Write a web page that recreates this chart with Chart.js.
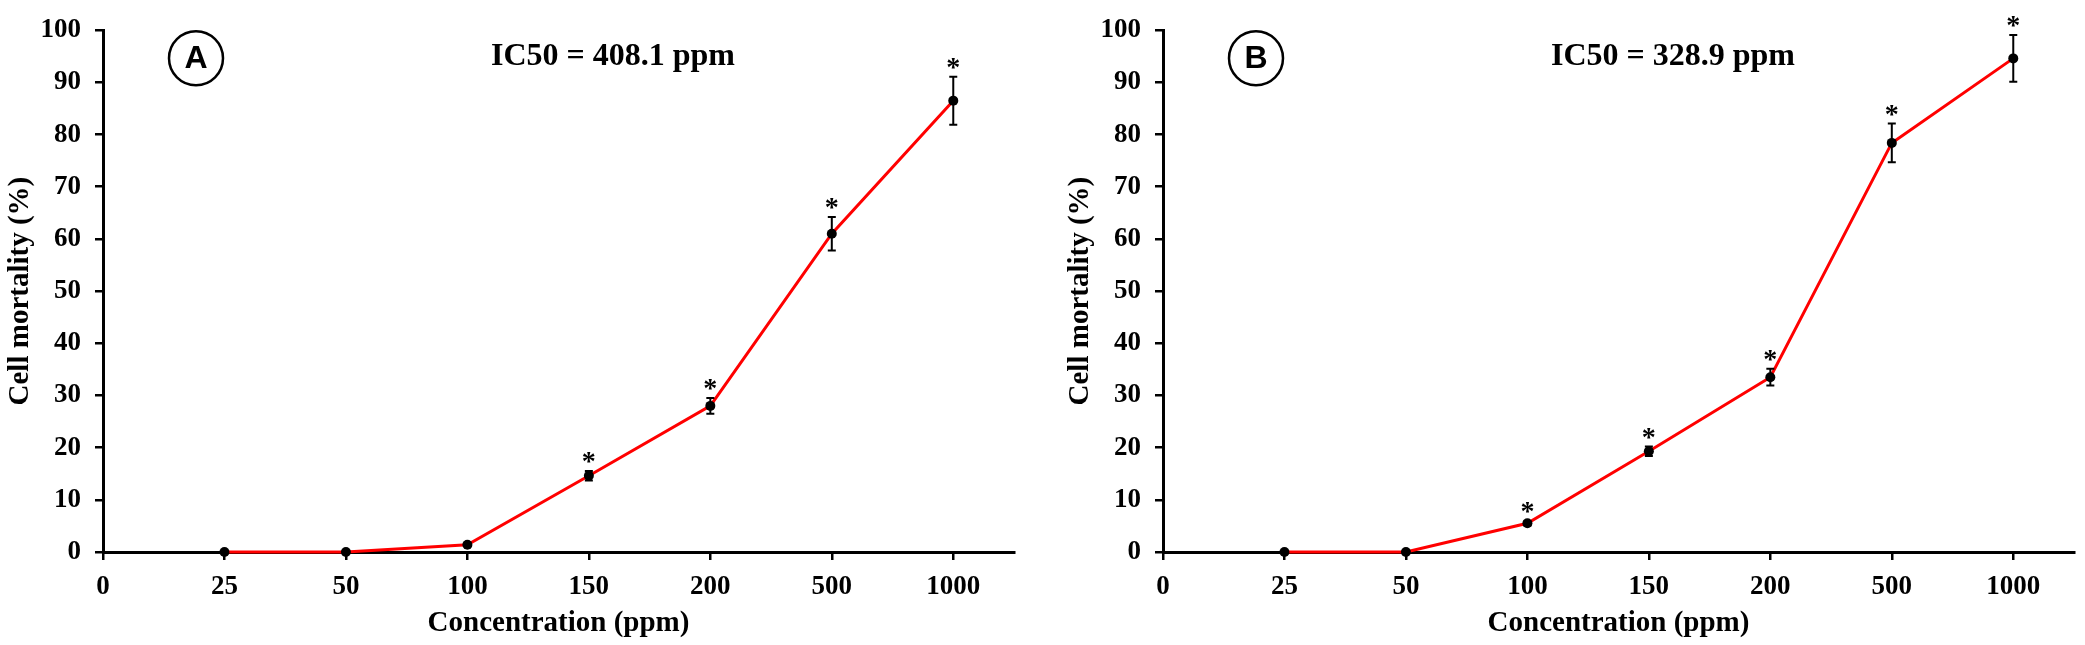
<!DOCTYPE html>
<html>
<head>
<meta charset="utf-8">
<script src="https://cdn.jsdelivr.net/npm/chart.js@4/dist/chart.umd.min.js"></script>
<style>
html, body { margin: 0; padding: 0; background: #fff; }
body { width: 2085px; height: 645px; position: relative; overflow: hidden; }
.panel { position: absolute; top: 0; height: 645px; }
#panelA { left: 0; width: 1040px; }
#panelB { left: 1060px; width: 1025px; }
</style>
</head>
<body>
<div class="panel" id="panelA"><canvas id="chartA"></canvas></div>
<div class="panel" id="panelB"><canvas id="chartB"></canvas></div>
<script>
// x positions are the index of each dose in the concentration list
var concentrations = ['0', '25', '50', '100', '150', '200', '500', '1000'];
var dosePositions = [1, 2, 3, 4, 5, 6, 7];

var mortalityA = [0, 0, 1.4, 14.6, 28.0, 61.0, 86.5];
var errorA = [0, 0, 0.3, 0.9, 1.5, 3.2, 4.6];
var starsA = [false, false, false, true, true, true, true];

var mortalityB = [0, 0, 5.5, 19.3, 33.5, 78.4, 94.6];
var errorB = [0, 0, 0.4, 0.9, 1.6, 3.7, 4.5];
var starsB = [false, false, true, true, true, true, true];

Chart.defaults.font.family = "'Liberation Serif', 'Times New Roman', serif";
Chart.defaults.font.weight = 'bold';
Chart.defaults.color = '#000';

var errorBars = {
    id: 'errorBars',
    afterDatasetsDraw: function (chart, args, opts) {
        var ctx = chart.ctx;
        var y = chart.scales.y;
        var meta = chart.getDatasetMeta(0);
        ctx.save();
        ctx.strokeStyle = '#000';
        ctx.fillStyle = '#000';
        ctx.lineWidth = 2;
        meta.data.forEach(function (pt, i) {
            var v = opts.values[i], e = opts.errors[i];
            var top = y.getPixelForValue(v + e);
            if (e > 0) {
                var bottom = y.getPixelForValue(v - e);
                ctx.beginPath();
                ctx.moveTo(pt.x, top);
                ctx.lineTo(pt.x, bottom);
                ctx.moveTo(pt.x - 4, top);
                ctx.lineTo(pt.x + 4, top);
                ctx.moveTo(pt.x - 4, bottom);
                ctx.lineTo(pt.x + 4, bottom);
                ctx.stroke();
            }
            if (opts.stars[i]) {
                ctx.font = "bold 28px 'Liberation Serif'";
                ctx.textAlign = 'center';
                ctx.textBaseline = 'alphabetic';
                ctx.fillText('*', pt.x, top - 1);
            }
        });
        ctx.restore();
    }
};

var panelLabel = {
    id: 'panelLabel',
    afterDraw: function (chart, args, opts) {
        var ctx = chart.ctx;
        var area = chart.chartArea;
        var cx = area.left + 93, cy = area.top + 28;
        ctx.save();
        ctx.strokeStyle = '#000';
        ctx.lineWidth = 2.5;
        ctx.beginPath();
        ctx.arc(cx, cy, 27, 0, Math.PI * 2);
        ctx.stroke();
        ctx.fillStyle = '#000';
        ctx.font = "bold 32px 'Liberation Sans'";
        ctx.textAlign = 'center';
        ctx.textBaseline = 'middle';
        ctx.fillText(opts.letter, cx, cy + 1);
        ctx.font = "bold 32px 'Liberation Serif'";
        ctx.textBaseline = 'alphabetic';
        ctx.fillText(opts.ic50, area.left + 510, area.top + 35);
        ctx.restore();
    }
};

function axisStyle() {
    return {
        grid: { drawOnChartArea: false, drawTicks: true, tickLength: 8, color: '#000', lineWidth: 2.5 },
        border: { display: true, color: '#000', width: 3 }
    };
}

function makeChart(id, values, errors, stars, letter, ic50, padRight) {
    var points = dosePositions.map(function (p, i) { return { x: p, y: values[i] }; });
    var xAxis = axisStyle(), yAxis = axisStyle();
    return new Chart(document.getElementById(id), {
        type: 'line',
        data: {
            datasets: [{
                data: points,
                borderColor: '#ff0000',
                borderWidth: 3,
                tension: 0,
                pointRadius: 5,
                pointBackgroundColor: '#000',
                pointBorderColor: '#000',
                pointBorderWidth: 0,
                clip: false
            }]
        },
        options: {
            responsive: true,
            maintainAspectRatio: false,
            animation: false,
            devicePixelRatio: 1,
            layout: { padding: { top: 18, right: padRight, left: 0, bottom: 0 } },
            plugins: {
                legend: { display: false },
                tooltip: { enabled: false },
                errorBars: { values: values, errors: errors, stars: stars },
                panelLabel: { letter: letter, ic50: ic50 }
            },
            scales: {
                x: {
                    type: 'linear',
                    min: 0,
                    max: 7.5,
                    grid: xAxis.grid,
                    border: xAxis.border,
                    ticks: {
                        stepSize: 1,
                        includeBounds: false,
                        autoSkip: false,
                        maxRotation: 0,
                        padding: 11,
                        font: { size: 27, weight: 'bold' },
                        callback: function (v) { return concentrations[v]; }
                    },
                    title: {
                        display: true,
                        text: 'Concentration (ppm)',
                        font: { size: 29, weight: 'bold' },
                        padding: { top: 0, bottom: 4 }
                    },
                    afterFit: function (s) { s.height = 93; }
                },
                y: {
                    min: 0,
                    max: 100,
                    grid: yAxis.grid,
                    border: yAxis.border,
                    ticks: { stepSize: 10, padding: 14, font: { size: 27, weight: 'bold' } },
                    title: {
                        display: true,
                        text: 'Cell mortality (%)',
                        font: { size: 29, weight: 'bold' },
                        padding: { top: 3, bottom: 0 }
                    },
                    afterFit: function (s) { s.width = 103; }
                }
            }
        },
        plugins: [errorBars, panelLabel]
    });
}

makeChart('chartA', mortalityA, errorA, starsA, 'A', 'IC50 = 408.1 ppm', 26);
makeChart('chartB', mortalityB, errorB, starsB, 'B', 'IC50 = 328.9 ppm', 11);
</script>
</body>
</html>
